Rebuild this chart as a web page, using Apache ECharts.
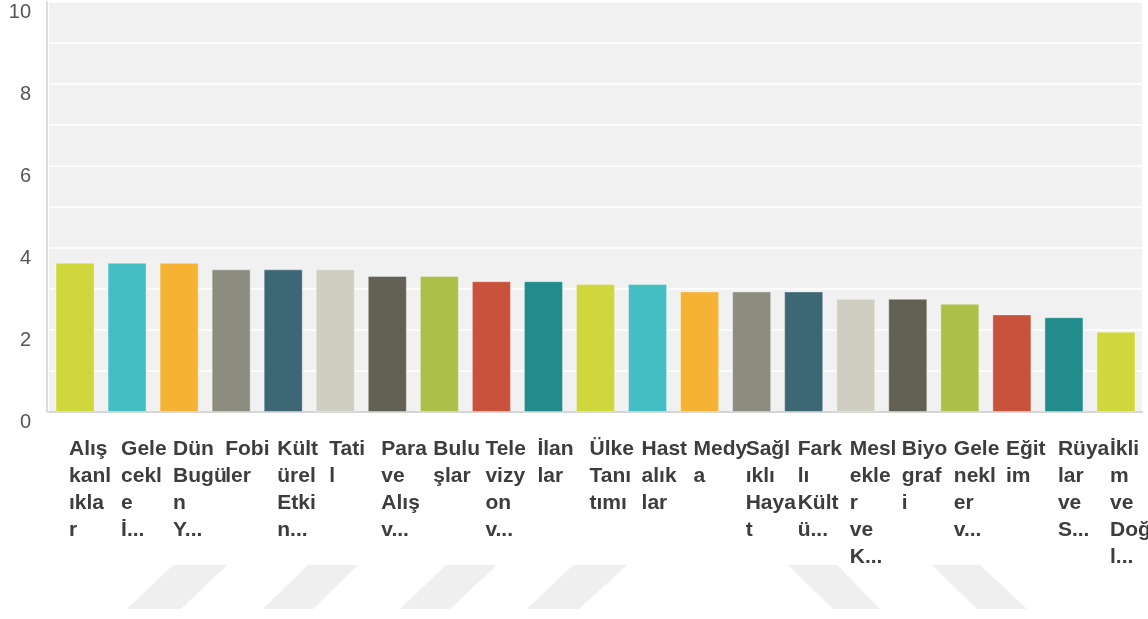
<!DOCTYPE html>
<html>
<head>
<meta charset="utf-8">
<script src="https://cdn.jsdelivr.net/npm/echarts@6/dist/echarts.min.js"></script>
<style>
html,body{margin:0;padding:0;background:#fff;}
#chart{width:1148px;height:619px;}
</style>
</head>
<body>
<div id="chart"></div>
<script>
const categories = ["Alışkanlıklar","Gelecekle İ...","Dün Bugün Y...","Fobiler","Kültürel Etkin...","Tatil","Para ve Alış v...","Buluşlar","Televizyon v...","İlanlar","Ülke Tanıtımı","Hastalıklar","Medya","Sağlıklı Hayat","Farklı Kültü...","Meslekler ve K...","Biyografi","Gelenekler v...","Eğitim","Rüyalar ve S...","İklim ve Doğal..."];
const values = [3.64,3.64,3.64,3.48,3.48,3.48,3.32,3.32,3.19,3.19,3.12,3.12,2.94,2.94,2.94,2.76,2.76,2.64,2.38,2.31,1.96];
const barColors = ["#d0d73c","#43bfc3","#f6b233","#8d8d7f","#3e6775","#d0cec0","#636154","#acc049","#c9523d","#228c8c","#d0d73c","#43bfc3","#f6b233","#8d8d7f","#3e6775","#d0cec0","#636154","#acc049","#c9523d","#228c8c","#d0d73c"];
const yTickLabels = [0,2,4,6,8,10];

function wrapLabel(s){
  const lines = [];
  s.split(' ').forEach(w => {
    const ch = Array.from(w);
    for (let i = 0; i < ch.length; i += 4) lines.push(ch.slice(i, i + 4).join(''));
  });
  return lines.join('\n');
}

// decorative watermark parallelograms at the bottom
const wm = [
  [[173,565],[227,565],[181,609],[127,609]],
  [[308,565],[358,565],[313,609],[263,609]],
  [[446,565],[497,565],[450,609],[400,609]],
  [[573,565],[627,565],[579,609],[527,609]],
  [[788,565],[837,565],[880,609],[833,609]],
  [[932,565],[980,565],[1027,609],[977,609]]
];

const chart = echarts.init(document.getElementById('chart'), null, {renderer:'canvas'});
chart.setOption({
  animation: false,
  backgroundColor: '#ffffff',
  graphic: wm.map(p => ({type:'polygon', z:-10, silent:true, shape:{points:p}, style:{fill:'#efefef'}})),
  grid: {left: 49, right: 6, top: 2, bottom: 207, show: true, backgroundColor: '#f1f1f1', borderWidth: 0, containLabel: false, outerBoundsMode: 'none'},
  xAxis: {
    type: 'category',
    data: categories,
    axisLine: {show: true, lineStyle: {color: '#d6d6d6', width: 2}},
    axisTick: {show: false},
    axisLabel: {
      interval: 0,
      formatter: wrapLabel,
      align: 'left',
      verticalAlign: 'top',
      padding: [0,0,0,-6],
      margin: 24,
      lineHeight: 27,
      fontFamily: 'Liberation Sans, Arial, sans-serif',
      fontWeight: 'bold',
      fontSize: 21,
      color: '#3d3d3d'
    },
    splitLine: {show: false}
  },
  yAxis: {
    type: 'value',
    min: 0, max: 10, interval: 1,
    offset: 2,
    axisLine: {show: true, lineStyle: {color: '#dcdcdc', width: 2}},
    axisTick: {show: false},
    axisLabel: {
      formatter: v => yTickLabels.includes(v) ? String(v) : '',
      verticalAlign: 'top',
      margin: 16,
      fontFamily: 'Liberation Sans, Arial, sans-serif',
      fontSize: 20,
      color: '#555555'
    },
    splitLine: {show: true, lineStyle: {color: '#ffffff', width: 1.5}}
  },
  series: [{
    type: 'bar',
    data: values.map((v, i) => ({value: v, itemStyle: {color: barColors[i]}})),
    barCategoryGap: '25%',
    itemStyle: {borderColor: 'rgba(255,255,255,0.35)', borderWidth: 1}
  }]
});
</script>
</body>
</html>
